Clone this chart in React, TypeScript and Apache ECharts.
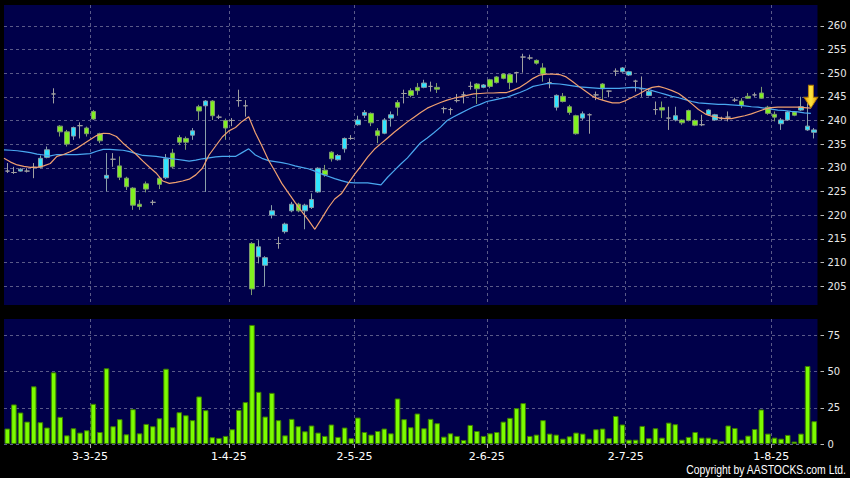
import React, { useEffect, useRef } from "react";
import * as echarts from "echarts";

const dates = [
  "12-2-25","13-2-25","14-2-25","17-2-25","18-2-25","19-2-25","20-2-25","21-2-25","24-2-25","25-2-25","26-2-25","27-2-25","28-2-25",
  "3-3-25","4-3-25","5-3-25","6-3-25","7-3-25","10-3-25","11-3-25","12-3-25","13-3-25","14-3-25","17-3-25","18-3-25","19-3-25","20-3-25","21-3-25","24-3-25","25-3-25","26-3-25","27-3-25","28-3-25","31-3-25",
  "1-4-25","2-4-25","3-4-25","7-4-25","8-4-25","9-4-25","10-4-25","11-4-25","14-4-25","15-4-25","16-4-25","17-4-25","22-4-25","23-4-25","24-4-25","25-4-25","28-4-25","29-4-25","30-4-25",
  "2-5-25","6-5-25","7-5-25","8-5-25","9-5-25","12-5-25","13-5-25","14-5-25","15-5-25","16-5-25","19-5-25","20-5-25","21-5-25","22-5-25","23-5-25","26-5-25","27-5-25","28-5-25","29-5-25","30-5-25",
  "2-6-25","3-6-25","4-6-25","5-6-25","6-6-25","9-6-25","10-6-25","11-6-25","12-6-25","13-6-25","16-6-25","17-6-25","18-6-25","19-6-25","20-6-25","23-6-25","24-6-25","25-6-25","26-6-25","27-6-25","30-6-25",
  "2-7-25","3-7-25","4-7-25","7-7-25","8-7-25","9-7-25","10-7-25","11-7-25","14-7-25","15-7-25","16-7-25","17-7-25","18-7-25","21-7-25","22-7-25","23-7-25","24-7-25","25-7-25","28-7-25","29-7-25","30-7-25","31-7-25",
  "1-8-25","4-8-25","5-8-25","6-8-25","7-8-25","8-8-25","11-8-25"
];

const labelDates = ["3-3-25", "1-4-25", "2-5-25", "2-6-25", "2-7-25", "1-8-25"];
const priceTicks = [205, 210, 215, 220, 225, 230, 235, 240, 245, 250, 255, 260];
const volumeTicks = [0, 25, 50, 75];

const opens = [
  229.3,229.0,229.3,229.3,230.1,230.1,232.2,245.6,238.8,237.6,
  236.7,238.9,238.4,241.9,237.2,227.8,231.8,230.4,227.8,225.7,
  222.3,226.6,222.7,227.8,227.9,233.1,236.4,236.2,236.9,242.9,
  243.1,244.1,240.7,240.0,240.0,244.2,243.1,214.0,211.2,209.4,
  220.0,214.0,216.5,220.9,222.3,220.9,221.6,224.9,229.5,233.3,
  231.7,234.0,236.2,239.1,241.1,241.5,237.8,237.3,240.5,243.8,
  245.7,246.3,247.0,247.0,247.2,247.0,242.5,242.3,244.2,245.4,
  247.2,247.7,247.0,248.6,249.2,249.8,249.7,250.1,253.4,253.2,
  252.7,251.1,248.0,242.8,245.1,242.9,241.0,240.5,241.2,245.4,
  247.7,246.2,250.4,250.3,249.6,248.3,246.7,245.3,242.3,242.7,
  240.5,240.1,240.1,242.1,240.0,239.1,241.2,240.1,240.4,240.7,
  244.3,244.1,245.1,245.4,245.8,242.8,241.3,239.3,240.1,241.8,
  242.2,238.0,237.5
];

const closes = [
  229.3,229.0,229.7,229.3,230.1,232.0,233.8,245.6,237.6,235.0,
  238.5,238.9,237.2,240.3,235.7,228.4,231.8,228.0,226.0,222.1,
  221.8,225.5,222.7,226.5,231.9,230.2,235.4,235.4,237.8,242.0,
  244.1,241.0,240.7,238.4,240.0,244.2,243.1,204.4,213.3,211.0,
  220.9,214.0,218.1,222.3,220.9,222.1,223.3,229.9,228.5,231.9,
  232.6,236.2,236.2,240.1,241.7,239.5,236.8,240.1,241.2,242.8,
  245.7,245.3,246.3,247.9,247.2,246.6,242.5,242.3,244.2,245.4,
  247.2,246.7,247.5,247.2,248.0,248.9,248.0,250.1,253.4,253.2,
  252.1,249.8,248.0,245.3,244.0,241.7,237.2,241.4,241.2,245.4,
  246.7,246.2,250.4,251.1,250.3,248.3,246.7,246.1,242.3,242.2,
  240.5,241.0,239.5,240.0,239.0,239.1,242.2,241.2,240.4,240.7,
  244.3,243.2,244.7,245.4,244.7,241.5,240.7,240.1,241.8,241.1,
  242.9,238.8,238.0
];

const lows = [
  228.9,228.7,229.2,229.0,227.8,229.9,232.0,243.6,236.6,234.5,
  235.9,236.2,236.6,240.1,235.2,225.0,230.2,227.4,225.3,221.1,
  221.1,224.8,222.1,225.5,227.6,229.9,234.8,233.8,235.9,240.1,
  224.9,240.1,240.3,235.9,238.8,242.9,240.8,203.1,209.8,205.0,
  219.3,212.9,216.1,220.6,220.6,217.0,221.3,224.7,228.1,231.3,
  231.5,233.2,235.9,238.9,240.5,238.8,235.2,237.1,238.7,241.0,
  243.6,244.9,245.4,246.8,246.1,245.8,241.5,241.2,243.8,243.6,
  246.5,243.5,246.8,246.8,247.8,248.7,246.6,248.0,250.1,252.8,
  251.8,248.2,246.8,242.1,243.8,241.2,237.0,240.1,237.2,244.3,
  244.3,244.9,249.4,250.1,249.4,246.1,245.0,245.1,241.2,240.5,
  238.0,239.8,239.1,239.8,238.8,238.8,241.0,239.9,240.0,239.8,
  243.9,242.6,244.6,245.0,244.6,241.2,239.8,238.0,239.9,240.9,
  242.0,237.8,236.2
];

const highs = [
  231.0,230.2,229.9,229.9,231.0,232.6,234.5,246.8,239.0,238.0,
  238.7,239.6,238.7,242.2,237.4,233.1,233.1,232.4,228.1,225.9,
  223.2,227.1,223.2,228.1,232.9,234.0,236.9,236.6,238.4,243.3,
  244.3,244.3,241.2,240.4,240.5,246.5,244.3,214.3,214.7,211.3,
  222.1,215.4,218.4,222.8,222.6,222.4,224.6,230.1,230.6,233.5,
  232.9,236.4,236.9,241.0,242.2,241.7,238.4,240.5,241.9,244.3,
  246.5,246.8,247.9,248.6,248.2,247.9,242.9,242.7,245.6,246.1,
  248.2,247.9,247.7,248.8,249.4,250.0,249.9,250.3,254.1,253.9,
  252.9,252.1,248.9,245.5,245.8,243.3,241.2,241.9,241.5,246.1,
  247.9,246.3,251.0,251.3,250.5,248.6,249.3,246.8,244.0,244.0,
  242.9,242.9,240.3,242.3,240.2,241.2,242.4,241.4,240.8,241.9,
  244.8,244.7,245.8,245.9,247.1,243.1,241.9,240.5,242.0,242.0,
  245.0,245.0,238.4
];

const volumes = [
  10.7,27.4,21.8,15.5,39.9,15.1,11.4,49.6,18.8,6.0,
  10.9,7.9,9.5,27.8,8.3,52.4,12.3,17.2,6.7,24.1,
  7.4,13.9,12.3,17.8,52.1,11.6,22.0,19.9,16.5,32.9,
  23.4,4.7,4.2,5.6,10.2,23.6,29.0,82.4,36.1,19.0,
  35.4,16.5,6.0,17.4,12.3,8.8,12.8,7.9,5.6,13.5,
  4.9,11.4,4.0,18.3,8.3,6.5,9.0,10.7,7.4,31.5,
  17.2,11.6,21.1,10.9,17.4,14.4,5.1,7.4,5.6,2.8,
  13.2,9.0,5.6,7.4,8.3,15.5,18.1,24.8,28.3,5.6,
  6.5,16.5,7.2,6.5,3.7,5.3,7.9,7.2,3.7,10.2,
  10.7,4.0,19.4,13.5,3.0,3.0,12.5,4.0,10.9,4.4,
  14.8,13.7,3.0,4.9,8.3,4.4,4.4,3.3,1.9,12.8,
  11.1,3.0,5.8,10.4,23.9,7.2,4.4,3.7,6.3,1.7,
  7.2,54.0,15.8
];

// moving averages as drawn at the left edge of each day's slot
const ma10 = [
  232.0,231.2,230.6,230.3,230.1,230.1,230.4,230.9,232.4,232.8,
  233.4,234.1,235.0,235.9,236.8,237.3,237.2,236.6,235.2,234.0,
  232.8,231.4,230.1,228.9,227.2,226.7,226.9,227.2,227.6,228.5,
  229.9,232.7,234.6,236.5,237.8,238.5,239.8,240.8,237.4,234.6,
  231.6,229.2,226.7,224.7,222.7,220.8,219.0,217.0,219.2,221.5,
  223.4,224.5,226.6,228.6,230.4,232.3,233.9,235.1,236.3,237.5,
  238.6,239.7,240.7,241.7,242.6,243.2,243.8,244.3,244.7,245.0,
  245.3,245.6,245.7,245.8,245.8,245.9,245.9,246.4,247.0,247.9,
  248.9,249.6,249.8,249.8,249.7,249.2,248.2,247.1,246.1,245.1,
  244.5,244.1,243.7,243.7,244.2,244.9,245.6,246.4,247.0,247.2,
  246.8,246.3,245.7,244.7,243.5,242.3,241.4,240.9,240.6,240.4,
  240.4,240.7,241.0,241.4,241.9,242.4,242.7,242.8,242.8,242.8,
  242.8,242.7,242.6
];

const ma20 = [
  233.8,233.7,233.6,233.4,233.2,232.9,232.7,232.5,232.8,232.8,
  232.8,232.8,232.9,233.0,233.5,233.9,233.9,233.8,233.7,233.4,
  233.0,232.6,232.5,232.4,232.2,232.0,231.8,231.6,231.4,231.6,
  231.9,232.1,232.3,232.4,232.4,232.4,233.2,234.0,232.7,232.0,
  231.5,231.3,231.1,230.8,230.4,230.1,229.8,229.3,228.7,228.2,
  227.7,227.3,226.9,226.8,226.8,226.8,226.6,226.4,228.0,229.4,
  230.8,232.1,233.7,235.3,236.3,237.4,238.6,240.0,240.8,241.5,
  242.2,242.9,243.4,244.0,244.3,244.6,244.9,245.4,245.9,246.5,
  247.2,247.5,247.8,247.8,247.7,247.5,247.3,247.1,247.0,246.9,
  246.8,246.8,246.8,246.8,246.9,247.0,246.9,246.7,246.3,245.9,
  245.5,245.1,244.8,244.4,244.0,243.7,243.6,243.5,243.4,243.4,
  243.3,243.2,243.1,242.9,242.8,242.6,242.4,242.2,242.1,241.9,
  241.8,241.6,241.5
];

const NAVY = "#00004a";
const GRID_LINE = "#5a5a88";
const FONT = "DejaVu Sans";

export default function App() {
  const ref = useRef<HTMLDivElement>(null);

  useEffect(() => {
    if (!ref.current) return;
    const chart = echarts.init(ref.current, undefined, { renderer: "svg" });

    const boundaryCats = [...dates, ""];
    const labelIdx = new Set(labelDates.map((d) => dates.indexOf(d)));
    const showAt = (i: number) => labelIdx.has(i);
    const dash = { color: GRID_LINE, type: [3, 3] as any, width: 1 };

    const candleData = dates.map((_, i) => [opens[i], closes[i], lows[i], highs[i]]);

    const arrowGradient = new echarts.graphic.LinearGradient(0, 0, 1, 0, [
      { offset: 0, color: "#e89800" },
      { offset: 0.5, color: "#ffe640" },
      { offset: 1, color: "#e89800" },
    ]);

    chart.setOption({
      animation: false,
      backgroundColor: "#000000",
      grid: [
        { left: 4, top: 5, width: 813.5, height: 300, show: true, backgroundColor: NAVY, borderWidth: 0, outerBoundsMode: "none" },
        { left: 4, top: 319, width: 813.5, height: 125, show: true, backgroundColor: NAVY, borderWidth: 0, outerBoundsMode: "none" },
      ],
      xAxis: [
        { type: "category", gridIndex: 0, position: "bottom", data: dates, boundaryGap: true, show: false },
        {
          type: "category", gridIndex: 0, position: "top", data: boundaryCats, boundaryGap: false,
          axisLine: { show: false }, axisTick: { show: false }, axisLabel: { show: false },
          splitLine: { show: true, interval: showAt, lineStyle: dash },
        },
        { type: "category", gridIndex: 1, position: "top", data: dates, boundaryGap: true, show: false },
        {
          type: "category", gridIndex: 1, position: "bottom", data: boundaryCats, boundaryGap: false,
          axisLine: { show: false },
          axisTick: { show: true, interval: showAt, length: 4, lineStyle: { color: "#aaaaaa" } },
          axisLabel: { show: true, interval: showAt, color: "#ffffff", fontSize: 11, fontFamily: FONT, margin: 7 },
          splitLine: { show: true, interval: showAt, lineStyle: dash },
        },
      ],
      yAxis: [
        {
          type: "value", gridIndex: 0, position: "right", min: 201, max: 264.4, offset: 3,
          axisLine: { show: false },
          axisTick: { show: true, length: 3.5, customValues: priceTicks, lineStyle: { color: "#bbbbbb" } },
          axisLabel: { customValues: priceTicks, color: "#e8e8e8", fontSize: 10, fontFamily: FONT, margin: 7 },
          splitLine: { show: true, lineStyle: dash },
        },
        {
          type: "value", gridIndex: 1, position: "right", min: 0, max: 86.5, offset: 3,
          axisLine: { show: false },
          axisTick: { show: true, length: 3.5, customValues: volumeTicks, lineStyle: { color: "#bbbbbb" } },
          axisLabel: { customValues: volumeTicks, color: "#e8e8e8", fontSize: 10, fontFamily: FONT, margin: 7 },
          splitLine: { show: true, lineStyle: dash },
        },
      ],
      series: [
        {
          type: "candlestick", xAxisIndex: 0, yAxisIndex: 0, data: candleData, barWidth: 5, silent: true,
          itemStyle: {
            color: "#30e4ff", color0: "#80f020",
            borderColor: "#8aa0a8", borderColor0: "#7e9a70", borderColorDoji: "#a0a0a0", borderWidth: 1,
          },
        },
        {
          type: "line", xAxisIndex: 1, yAxisIndex: 0, data: ma20, showSymbol: false, silent: true,
          lineStyle: { color: "#4aa8f0", width: 1.2 },
        },
        {
          type: "line", xAxisIndex: 1, yAxisIndex: 0, data: ma10, showSymbol: false, silent: true,
          lineStyle: { color: "#f0a070", width: 1.2 },
          markPoint: {
            silent: true,
            symbol: "path://M5,0 L11,0 L11,12 L16,12 L8,23 L0,12 L5,12 Z",
            symbolSize: [14, 23],
            symbolOffset: [0, "-50%"],
            label: { show: false },
            itemStyle: { color: arrowGradient, borderColor: "#b07800", borderWidth: 0.8 },
            data: [{ coord: [ma10.length - 1, ma10[ma10.length - 1]] }],
          },
        },
        {
          type: "bar", xAxisIndex: 2, yAxisIndex: 1, data: volumes, barWidth: "84%", silent: true,
          itemStyle: { color: "#7cfc00", borderColor: "#3c7c00", borderWidth: 1 },
        },
      ],
      graphic: [
        {
          type: "text", x: 846, y: 463, scaleX: 0.8,
          style: {
            text: "Copyright by AASTOCKS.com Ltd.",
            fill: "#ffffff",
            align: "right",
            font: '13px "Liberation Sans", Arial, sans-serif',
          },
        },
      ],
    });

    return () => chart.dispose();
  }, []);

  return (
    <div style={{ position: "fixed", left: 0, top: 0, width: 850, height: 478, background: "#000" }}>
      <div ref={ref} style={{ width: 850, height: 478 }} />
    </div>
  );
}
